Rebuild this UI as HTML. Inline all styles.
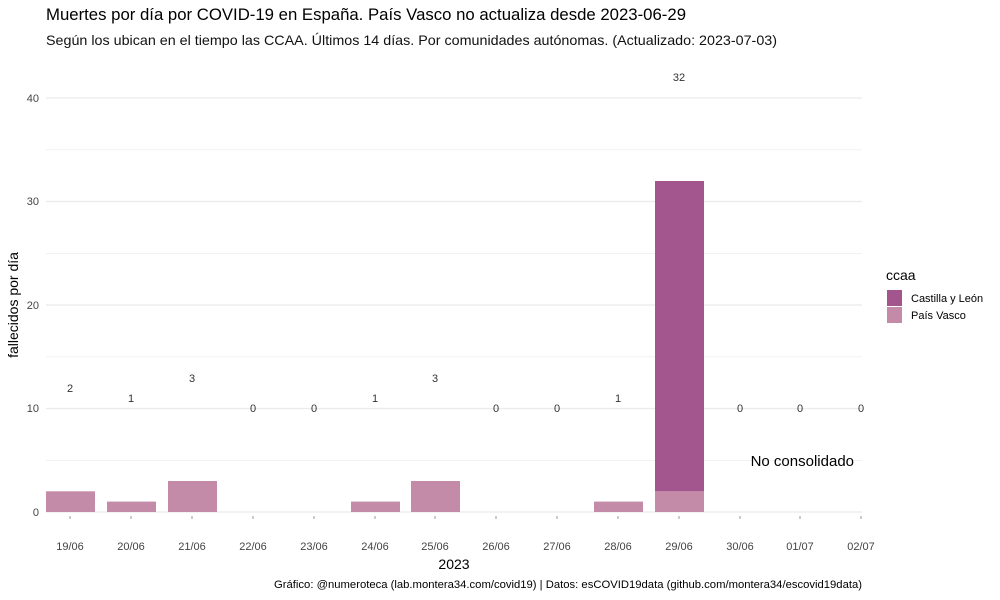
<!DOCTYPE html>
<html><head><meta charset="utf-8"><style>
body{margin:0;background:#fff;}
svg{display:block;font-family:"Liberation Sans",sans-serif;}
</style></head><body>
<svg width="1000" height="600" viewBox="0 0 1000 600">
<text x="46" y="20" font-size="17" fill="#000" textLength="640" lengthAdjust="spacingAndGlyphs">Muertes por día por COVID-19 en España. País Vasco no actualiza desde  2023-06-29</text>
<text x="46" y="45" font-size="14" fill="#111" textLength="731" lengthAdjust="spacingAndGlyphs">Según los ubican en el tiempo las CCAA. Últimos 14 días. Por comunidades autónomas. (Actualizado: 2023-07-03)</text>
<g stroke="#ebebeb" stroke-width="0.6">
<line x1="46" x2="862" y1="460.3" y2="460.3"/><line x1="46" x2="862" y1="356.8" y2="356.8"/>
<line x1="46" x2="862" y1="253.3" y2="253.3"/><line x1="46" x2="862" y1="149.8" y2="149.8"/>
</g>
<g stroke="#ebebeb" stroke-width="1.2">
<line x1="46" x2="862" y1="512" y2="512"/><line x1="46" x2="862" y1="408.5" y2="408.5"/>
<line x1="46" x2="862" y1="305" y2="305"/><line x1="46" x2="862" y1="201.5" y2="201.5"/>
<line x1="46" x2="862" y1="98" y2="98"/>
</g>
<g font-size="11" fill="#444" text-anchor="end">
<text x="39" y="516">0</text><text x="39" y="412">10</text><text x="39" y="309">20</text><text x="39" y="205">30</text><text x="39" y="102">40</text>
</g>
<g fill="#c38ba8">
<rect x="46" y="491.3" width="49" height="20.7"/>
<rect x="107" y="501.6" width="49" height="10.4"/>
<rect x="168" y="481" width="49" height="31"/>
<rect x="351" y="501.6" width="49" height="10.4"/>
<rect x="411" y="481" width="49" height="31"/>
<rect x="594" y="501.6" width="49" height="10.4"/>
<rect x="655" y="491.3" width="49" height="20.7"/>
</g>
<rect x="655" y="181" width="49" height="310.3" fill="#a3558d"/>
<g font-size="11" fill="#333" text-anchor="middle">
<text x="70" y="392">2</text><text x="131" y="402">1</text><text x="192" y="382">3</text>
<text x="253" y="412">0</text><text x="314" y="412">0</text><text x="375" y="402">1</text>
<text x="435" y="382">3</text><text x="496" y="412">0</text><text x="557" y="412">0</text>
<text x="618" y="402">1</text><text x="679" y="81">32</text><text x="740" y="412">0</text>
<text x="800" y="412">0</text><text x="861" y="412">0</text>
</g>
<text x="854" y="466" font-size="15" fill="#000" text-anchor="end">No consolidado</text>
<g stroke="#999" stroke-width="1">
<line x1="70" x2="70" y1="516" y2="519"/><line x1="131" x2="131" y1="516" y2="519"/><line x1="192" x2="192" y1="516" y2="519"/><line x1="253" x2="253" y1="516" y2="519"/><line x1="314" x2="314" y1="516" y2="519"/><line x1="375" x2="375" y1="516" y2="519"/><line x1="435" x2="435" y1="516" y2="519"/><line x1="496" x2="496" y1="516" y2="519"/><line x1="557" x2="557" y1="516" y2="519"/><line x1="618" x2="618" y1="516" y2="519"/><line x1="679" x2="679" y1="516" y2="519"/><line x1="740" x2="740" y1="516" y2="519"/><line x1="800" x2="800" y1="516" y2="519"/><line x1="861" x2="861" y1="516" y2="519"/>
</g>
<g font-size="11" fill="#444" text-anchor="middle">
<text x="70" y="550">19/06</text><text x="131" y="550">20/06</text><text x="192" y="550">21/06</text><text x="253" y="550">22/06</text><text x="314" y="550">23/06</text><text x="375" y="550">24/06</text><text x="435" y="550">25/06</text><text x="496" y="550">26/06</text><text x="557" y="550">27/06</text><text x="618" y="550">28/06</text><text x="679" y="550">29/06</text><text x="740" y="550">30/06</text><text x="800" y="550">01/07</text><text x="861" y="550">02/07</text>
</g>
<text x="454" y="569" font-size="14" text-anchor="middle" fill="#000">2023</text>
<text transform="translate(18,305) rotate(-90)" font-size="14" text-anchor="middle" fill="#000">fallecidos por día</text>
<text x="862" y="588" font-size="11" text-anchor="end" fill="#000" textLength="588" lengthAdjust="spacingAndGlyphs">Gráfico: @numeroteca (lab.montera34.com/covid19) | Datos: esCOVID19data (github.com/montera34/escovid19data)</text>
<text x="886" y="280" font-size="14" fill="#000">ccaa</text>
<rect x="887" y="290" width="15" height="16" fill="#a3558d"/>
<rect x="887" y="307" width="15" height="16" fill="#c38ba8"/>
<text x="911" y="302" font-size="11" fill="#000">Castilla y León</text>
<text x="911" y="319" font-size="11" fill="#000">País Vasco</text>
</svg>
</body></html>
